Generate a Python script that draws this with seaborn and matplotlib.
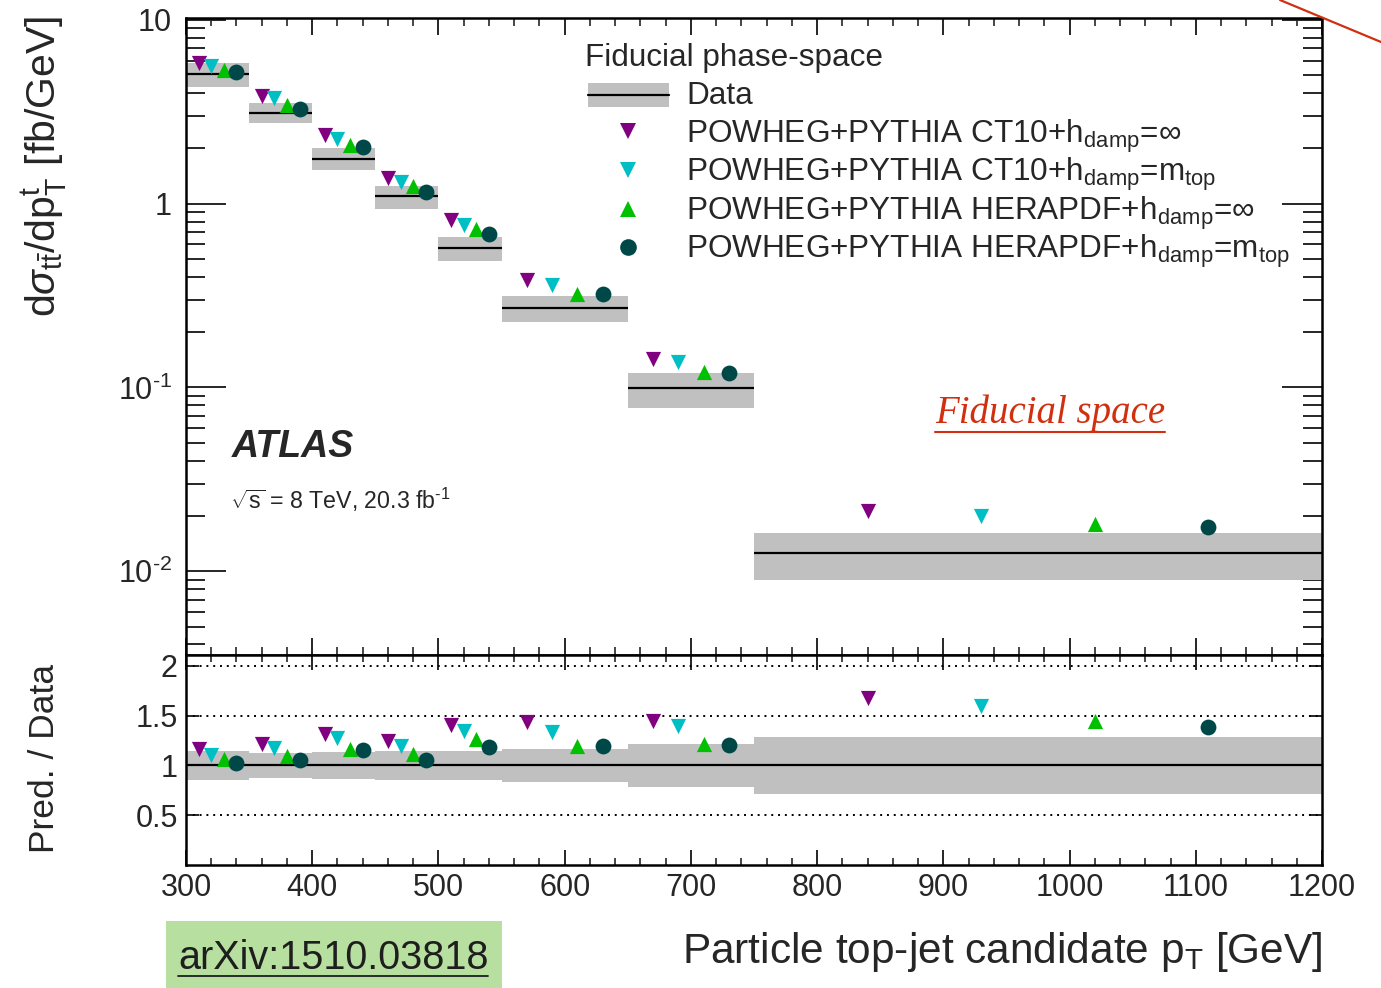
import numpy as np
import pandas as pd
import matplotlib
matplotlib.use("Agg")
import matplotlib.pyplot as plt
import seaborn as sns
from matplotlib.patches import Rectangle
from matplotlib.lines import Line2D
from matplotlib.ticker import FixedLocator, NullFormatter, FuncFormatter, MultipleLocator

# ---------------- data ----------------
bin_edges = [300, 350, 400, 450, 500, 550, 650, 750, 1200]
data_xsec = [5.06, 3.13, 1.76, 1.10, 0.574, 0.270, 0.0996, 0.01256]
data_lo = [4.30, 2.74, 1.52, 0.933, 0.488, 0.228, 0.0775, 0.00895]
data_hi = [5.81, 3.52, 2.00, 1.25, 0.659, 0.315, 0.1197, 0.01615]

ratio_band_lo = [0.85, 0.87, 0.86, 0.85, 0.85, 0.835, 0.78, 0.71]
ratio_band_hi = [1.15, 1.13, 1.14, 1.15, 1.15, 1.17, 1.22, 1.29]

series_names = [
    r"POWHEG+PYTHIA CT10+h$_{\mathrm{damp}}$=$\infty$",
    r"POWHEG+PYTHIA CT10+h$_{\mathrm{damp}}$=m$_{\mathrm{top}}$",
    r"POWHEG+PYTHIA HERAPDF+h$_{\mathrm{damp}}$=$\infty$",
    r"POWHEG+PYTHIA HERAPDF+h$_{\mathrm{damp}}$=m$_{\mathrm{top}}$",
]
series_x = [
    [310, 360, 410, 460, 510, 570, 670, 840],
    [320, 370, 420, 470, 520, 590, 690, 930],
    [330, 380, 430, 480, 530, 610, 710, 1020],
    [340, 390, 440, 490, 540, 630, 730, 1110],
]
pred_ct10_inf = [5.81, 3.85, 2.36, 1.38, 0.813, 0.386, 0.143, 0.0212]
pred_ct10_mtop = [5.61, 3.74, 2.26, 1.32, 0.770, 0.363, 0.137, 0.0200]
pred_hera_inf = [5.34, 3.44, 2.08, 1.245, 0.733, 0.324, 0.121, 0.0181]
pred_hera_mtop = [5.19, 3.27, 2.04, 1.156, 0.680, 0.324, 0.120, 0.0173]

ratio_ct10_inf = [1.167, 1.217, 1.32, 1.25, 1.403, 1.433, 1.443, 1.677]
ratio_ct10_mtop = [1.11, 1.177, 1.277, 1.193, 1.343, 1.333, 1.393, 1.593]
ratio_hera_inf = [1.067, 1.10, 1.17, 1.12, 1.267, 1.193, 1.217, 1.443]
ratio_hera_mtop = [1.027, 1.05, 1.153, 1.053, 1.187, 1.193, 1.203, 1.387]

x_ticks = [300, 400, 500, 600, 700, 800, 900, 1000, 1100, 1200]

preds = [pred_ct10_inf, pred_ct10_mtop, pred_hera_inf, pred_hera_mtop]
ratios = [ratio_ct10_inf, ratio_ct10_mtop, ratio_hera_inf, ratio_hera_mtop]
markers = ["v", "v", "^", "o"]
colors = ["#800080", "#00BFC4", "#00C000", "#004848"]

# ---------------- style ----------------
sns.set_theme(style="ticks")
plt.rcParams["font.family"] = ["Liberation Sans", "DejaVu Sans"]
plt.rcParams["mathtext.fontset"] = "custom"
plt.rcParams["mathtext.rm"] = "Liberation Sans"
plt.rcParams["mathtext.it"] = "Liberation Sans:italic"
plt.rcParams["mathtext.bf"] = "Liberation Sans:bold"

W, H = 1381, 988
fig = plt.figure(figsize=(W / 100, H / 100), dpi=100)


def fx(px):
    return px / W


def fy(py):
    return 1 - py / H


L, R = 186, 1322
ax = fig.add_axes([fx(L), fy(655), (R - L) / W, (655 - 18) / H])
axr = fig.add_axes([fx(L), fy(865), (R - L) / W, (865 - 655) / H], sharex=ax)

edges = np.array(bin_edges)
lefts = edges[:-1]
widths = np.diff(edges)
band_grey = "#C0C0C0"

# top panel band + data line
ax.bar(lefts, np.array(data_hi) - np.array(data_lo), bottom=data_lo, width=widths,
       align="edge", color=band_grey, linewidth=0, zorder=1)
ax.hlines(data_xsec, lefts, edges[1:], color="black", linewidth=1.6, zorder=2)

# ratio band + line
axr.bar(lefts, np.array(ratio_band_hi) - np.array(ratio_band_lo), bottom=ratio_band_lo,
        width=widths, align="edge", color=band_grey, linewidth=0, zorder=1)
axr.axhline(1.0, color="black", linewidth=1.6, zorder=2)
for yv in [0.5, 1.5, 2.0]:
    axr.axhline(yv, color="black", linewidth=1.4, linestyle=(0, (1, 2.5)), zorder=2)

for xs, ys, rs, m, c in zip(series_x, preds, ratios, markers, colors):
    s = 130 if m == "o" else 120
    sns.scatterplot(x=xs, y=ys, marker=m, color=c, s=s, linewidth=0, ax=ax, zorder=3, legend=False)
    sns.scatterplot(x=xs, y=rs, marker=m, color=c, s=s, linewidth=0, ax=axr, zorder=3, legend=False)

# axes limits / scales
ax.set_yscale("log")
ax.set_ylim(0.0035, 10.25)
ax.set_xlim(300, 1200)
axr.set_ylim(0.0, 2.11)

for a in (ax, axr):
    for sp in a.spines.values():
        sp.set_visible(True)
        sp.set_linewidth(1.8)
        sp.set_color("black")
    a.set_facecolor("white")

# ticks
ax.xaxis.set_major_locator(MultipleLocator(100))
ax.xaxis.set_minor_locator(MultipleLocator(20))
ax.tick_params(axis="x", which="major", direction="in", top=True, bottom=True, length=12, width=1.4,
               labelbottom=False)
ax.tick_params(axis="x", which="minor", direction="in", top=True, bottom=True, length=6, width=1.2)
ax.yaxis.set_major_locator(FixedLocator([0.01, 0.1, 1, 10]))
minors = [k * 10.0 ** e for e in range(-3, 1) for k in range(2, 10)]
ax.yaxis.set_minor_locator(FixedLocator(minors))
ax.yaxis.set_minor_formatter(NullFormatter())


def logfmt(v, pos):
    if abs(v - 10) < 1e-9:
        return "10"
    if abs(v - 1) < 1e-9:
        return "1"
    e = int(round(np.log10(v)))
    return r"10$^{\text{%d}}$" % e


ax.yaxis.set_major_formatter(FuncFormatter(logfmt))
ax.tick_params(axis="y", which="major", direction="in", left=True, right=True, length=29, width=1.4,
               labelsize=22, pad=10)
ax.tick_params(axis="y", which="minor", direction="in", left=True, right=True, length=14, width=1.4)

axr.tick_params(axis="x", which="major", direction="in", top=True, bottom=True, length=11, width=1.4,
                labelsize=22, pad=6)
axr.tick_params(axis="x", which="minor", direction="in", top=True, bottom=True, length=5, width=1.2)
axr.set_yticks([0.5, 1.0, 1.5, 2.0])
axr.set_yticklabels(["0.5", "1", "1.5", "2"])
axr.tick_params(axis="y", which="major", direction="in", left=True, right=True, length=9, width=1.4,
                labelsize=22, pad=6)
axr.set_xticks(x_ticks)
axr.set_xticklabels([str(v) for v in x_ticks])
ax.set_xlabel("")
axr.set_xlabel("")

# ---------------- legend (ROOT-style, drawn in figure space) ----------------
leg_fs = 22.7
fig.text(fx(585), fy(66), "Fiducial phase-space", fontsize=leg_fs, ha="left", va="baseline")
fig.add_artist(Rectangle((fx(588), fy(107)), (669 - 588) / W, (107 - 83) / H,
                         transform=fig.transFigure, facecolor=band_grey, edgecolor="none"))
fig.add_artist(Line2D([fx(588), fx(669)], [fy(95), fy(95)], color="black", linewidth=1.6))
fig.text(fx(686), fy(104.5), "Data", fontsize=leg_fs, ha="left", va="baseline")
row_text = [142.5, 180.5, 219.5, 257.5]
row_mark = [131, 170, 209, 247]
for name, m, c, yt, ym in zip(series_names, markers, colors, row_text, row_mark):
    fig.add_artist(Line2D([fx(628)], [fy(ym)], linestyle="none", marker=m, color=c,
                          markersize=12, markeredgewidth=0))
    fig.text(fx(686), fy(yt), name, fontsize=leg_fs, ha="left", va="baseline")

# texts
fig.text(fx(232), fy(447), "ATLAS", fontsize=27, fontweight="bold", fontstyle="italic",
         ha="left", va="center")
fig.text(fx(230), fy(500), r"$\sqrt{\mathrm{s}}$ = 8 TeV, 20.3 fb$^{\text{-1}}$", fontsize=16.7,
         ha="left", va="center")

fig.text(fx(45), fy(166), r"d$\sigma_{\mathrm{t\bar{t}}}$/dp$^{\mathrm{t}}_{\mathrm{T}}$ [fb/GeV]",
         fontsize=29.5, rotation=90, ha="center", va="center")
fig.text(fx(45), fy(758), "Pred. / Data", fontsize=25.5, rotation=90, ha="center", va="center")
fig.text(fx(1322), fy(952), r"Particle top-jet candidate p$_{\mathrm{T}}$ [GeV]", fontsize=30.5,
         ha="right", va="center")

# annotation decorations
red = "#D0300F"
fig.text(fx(935), fy(413), "Fiducial space", fontsize=28, fontstyle="italic",
         family=["Liberation Serif", "DejaVu Serif"], color=red, ha="left", va="center")
fig.add_artist(Line2D([fx(935), fx(1165)], [fy(432), fy(432)], color=red, linewidth=1.5))
fig.add_artist(Line2D([fx(1280), 1.0], [1.0, fy(42)], color=red, linewidth=1.6))

fig.add_artist(Rectangle((fx(166), 0), (502 - 166) / W, (988 - 921) / H, transform=fig.transFigure,
                         facecolor="#B7DFA0", edgecolor="none"))
fig.text(fx(178), fy(958), "arXiv:1510.03818", fontsize=28.5, color="#1E1E1E", ha="left", va="center")
fig.add_artist(Line2D([fx(178), fx(488)], [fy(976), fy(976)], color="#1E1E1E", linewidth=1.3))

fig.savefig("out.png", dpi=100)
